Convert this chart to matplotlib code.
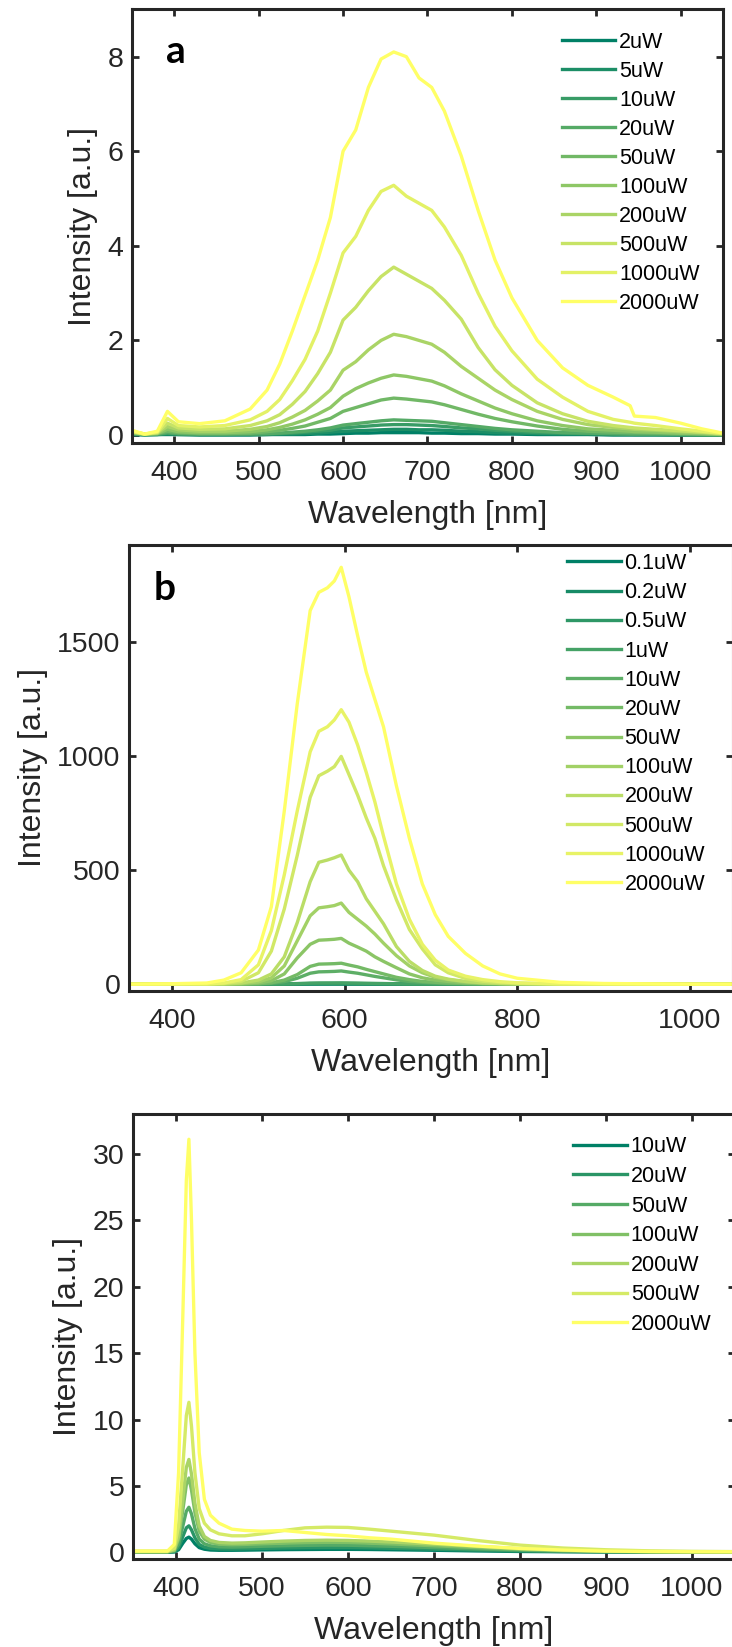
import numpy as np
import matplotlib
matplotlib.use('Agg')
import matplotlib.pyplot as plt

plt.rcParams['font.family'] = ['Liberation Sans', 'DejaVu Sans']

# ---------------- panel a ----------------
wl_a = [350, 365, 380, 392, 405, 430, 460, 490, 510, 525, 540, 555, 570, 585, 600, 615, 630, 645,
        660, 675, 690, 705, 720, 740, 760, 780, 800, 830, 860, 890, 920, 940, 945, 970, 1000, 1025, 1050]
labels_a = ['2uW', '5uW', '10uW', '20uW', '50uW', '100uW', '200uW', '500uW', '1000uW', '2000uW']
a_2uW = [0.01, 0.00, 0.01, 0.01, 0.01, 0.00, 0.00, 0.00, 0.01, 0.01, 0.01, 0.01, 0.02, 0.02, 0.03, 0.04, 0.04, 0.05,
         0.05, 0.05, 0.05, 0.04, 0.04, 0.03, 0.03, 0.02, 0.02, 0.01, 0.01, 0.01, 0.00, 0.00, 0.00, 0.00, 0.00, 0.00, 0.00]
a_5uW = [0.02, 0.01, 0.01, 0.02, 0.01, 0.01, 0.01, 0.01, 0.01, 0.02, 0.02, 0.03, 0.04, 0.06, 0.08, 0.09, 0.10, 0.11,
         0.12, 0.12, 0.11, 0.11, 0.10, 0.08, 0.07, 0.05, 0.04, 0.03, 0.02, 0.02, 0.01, 0.01, 0.01, 0.01, 0.00, 0.00, 0.00]
a_10uW = [0.02, 0.01, 0.01, 0.04, 0.02, 0.01, 0.01, 0.02, 0.02, 0.03, 0.04, 0.06, 0.08, 0.10, 0.15, 0.17, 0.19, 0.21,
          0.22, 0.22, 0.21, 0.20, 0.18, 0.15, 0.13, 0.10, 0.08, 0.05, 0.04, 0.03, 0.02, 0.02, 0.01, 0.01, 0.01, 0.00, 0.00]
a_20uW = [0.03, 0.01, 0.02, 0.05, 0.03, 0.02, 0.02, 0.02, 0.03, 0.04, 0.06, 0.08, 0.11, 0.15, 0.21, 0.24, 0.27, 0.30,
          0.32, 0.31, 0.30, 0.29, 0.26, 0.22, 0.18, 0.14, 0.11, 0.08, 0.05, 0.04, 0.03, 0.02, 0.02, 0.02, 0.01, 0.01, 0.00]
a_50uW = [0.04, 0.02, 0.03, 0.08, 0.05, 0.03, 0.03, 0.04, 0.07, 0.10, 0.14, 0.19, 0.27, 0.35, 0.50, 0.58, 0.66, 0.74,
          0.78, 0.76, 0.73, 0.70, 0.64, 0.54, 0.44, 0.35, 0.28, 0.19, 0.12, 0.08, 0.06, 0.05, 0.05, 0.04, 0.03, 0.02, 0.01]
a_100uW = [0.05, 0.02, 0.03, 0.12, 0.07, 0.05, 0.05, 0.07, 0.11, 0.16, 0.23, 0.32, 0.44, 0.58, 0.82, 0.98, 1.10, 1.20,
           1.27, 1.24, 1.19, 1.14, 1.04, 0.87, 0.72, 0.57, 0.45, 0.30, 0.20, 0.13, 0.10, 0.08, 0.07, 0.06, 0.04, 0.03, 0.01]
a_200uW = [0.06, 0.02, 0.04, 0.18, 0.11, 0.08, 0.08, 0.12, 0.18, 0.26, 0.38, 0.52, 0.72, 0.95, 1.37, 1.55, 1.80, 2.00,
           2.13, 2.08, 2.00, 1.92, 1.75, 1.45, 1.20, 0.95, 0.75, 0.50, 0.33, 0.22, 0.16, 0.13, 0.12, 0.10, 0.07, 0.05, 0.02]
a_500uW = [0.07, 0.02, 0.05, 0.25, 0.15, 0.12, 0.13, 0.20, 0.30, 0.43, 0.65, 0.92, 1.30, 1.75, 2.43, 2.70, 3.05, 3.35,
           3.55, 3.40, 3.25, 3.10, 2.85, 2.45, 1.85, 1.38, 1.05, 0.68, 0.45, 0.29, 0.20, 0.16, 0.15, 0.12, 0.09, 0.06, 0.03]
a_1000uW = [0.08, 0.02, 0.06, 0.35, 0.20, 0.17, 0.20, 0.32, 0.50, 0.75, 1.15, 1.60, 2.20, 3.00, 3.85, 4.20, 4.75, 5.15,
            5.28, 5.05, 4.90, 4.75, 4.40, 3.80, 3.00, 2.30, 1.78, 1.18, 0.80, 0.50, 0.33, 0.27, 0.25, 0.20, 0.13, 0.08, 0.03]
a_2000uW = [0.10, 0.02, 0.08, 0.50, 0.28, 0.24, 0.30, 0.55, 0.95, 1.50, 2.20, 2.95, 3.70, 4.60, 6.00, 6.45, 7.35, 7.95,
            8.10, 8.00, 7.55, 7.35, 6.85, 5.90, 4.75, 3.70, 2.90, 2.00, 1.42, 1.05, 0.80, 0.62, 0.40, 0.37, 0.25, 0.13, 0.04]

# ---------------- panel b ----------------
wl_b = [350, 400, 440, 460, 480, 500, 515, 530, 545, 560, 570, 580, 588, 596, 605, 615, 625, 635, 645,
        660, 675, 690, 705, 720, 740, 760, 780, 800, 850, 900, 1000, 1050]
labels_b = ['0.1uW', '0.2uW', '0.5uW', '1uW', '10uW', '20uW', '50uW', '100uW', '200uW', '500uW', '1000uW', '2000uW']
b_01uW = [0, 0, 0, 0, 0, 0, 0, 0.1, 0.2, 0.4, 0.5, 0.5, 0.6, 0.6, 0.5, 0.5, 0.4, 0.4, 0.3,
          0.2, 0.1, 0.1, 0, 0, 0, 0, 0, 0, 0, 0, 0, 0]
b_02uW = [0, 0, 0, 0, 0, 0, 0.1, 0.2, 0.5, 1.0, 1.1, 1.1, 1.2, 1.2, 1.1, 1.0, 0.8, 0.7, 0.6,
          0.4, 0.3, 0.2, 0.1, 0.1, 0, 0, 0, 0, 0, 0, 0, 0]
b_05uW = [0, 0, 0, 0, 0, 0.1, 0.2, 0.6, 1.4, 2.5, 2.8, 2.9, 2.9, 3.0, 2.8, 2.5, 2.1, 1.8, 1.5,
          1.0, 0.6, 0.4, 0.3, 0.2, 0.1, 0, 0, 0, 0, 0, 0, 0]
b_1uW = [0, 0, 0, 0, 0, 0.1, 0.4, 1.1, 2.6, 4.8, 5.4, 5.5, 5.6, 5.8, 5.3, 4.8, 4.1, 3.4, 2.8,
         1.9, 1.2, 0.8, 0.5, 0.3, 0.2, 0.1, 0.1, 0, 0, 0, 0, 0]
b_10uW = [0, 0, 0, 0, 0, 1, 4, 11, 26, 48, 54, 55, 56, 58, 53, 48, 41, 34, 28,
          19, 12, 8, 5, 3, 2, 1, 1, 0, 0, 0, 0, 0]
b_20uW = [0, 0, 0, 0, 0, 2, 6, 18, 42, 78, 88, 89, 90, 92, 84, 76, 65, 55, 45,
          30, 20, 12, 8, 5, 3, 2, 1, 0, 0, 0, 0, 0]
b_50uW = [0, 0, 0, 0, 1, 5, 15, 45, 115, 175, 193, 195, 197, 201, 180, 163, 145, 120, 100,
          72, 45, 28, 18, 12, 6, 3, 2, 1, 0, 0, 0, 0]
b_100uW = [0, 0, 0, 0, 3, 10, 28, 80, 190, 300, 335, 340, 345, 356, 315, 285, 255, 220, 180,
           125, 80, 50, 30, 20, 10, 5, 3, 1, 0, 0, 0, 0]
b_200uW = [0, 0, 0, 1, 5, 18, 45, 120, 270, 450, 535, 545, 555, 567, 500, 450, 375, 320, 265,
           165, 100, 60, 35, 22, 12, 6, 3, 2, 0, 0, 0, 0]
b_500uW = [0, 0, 0, 3, 12, 50, 145, 330, 565, 820, 915, 935, 955, 1000, 920, 830, 730, 640, 520,
           370, 240, 155, 85, 50, 25, 13, 7, 4, 1, 0, 0, 0]
b_1000uW = [0, 0, 1, 5, 20, 85, 235, 480, 760, 1020, 1110, 1130, 1160, 1205, 1150, 1050, 930, 800, 650,
            440, 285, 175, 105, 62, 35, 20, 11, 6, 1, 0, 0, 0]
b_2000uW = [0, 2, 5, 18, 50, 150, 340, 760, 1230, 1640, 1720, 1740, 1770, 1830, 1700, 1530, 1370, 1250, 1130,
            870, 640, 440, 305, 210, 135, 80, 45, 26, 8, 3, 0, 0]

# ---------------- panel c ----------------
wl_c = [350, 390, 398, 403, 408, 412, 415, 418, 422, 427, 433, 440, 450, 465, 480, 500, 525, 550, 575,
        600, 625, 650, 700, 750, 800, 850, 900, 950, 1000, 1050]
labels_c = ['10uW', '20uW', '50uW', '100uW', '200uW', '500uW', '2000uW']
c_10uW = [0.01, 0.01, 0.03, 0.20, 0.70, 1.05, 1.15, 1.00, 0.65, 0.36, 0.24, 0.18, 0.16, 0.16, 0.17, 0.19, 0.21, 0.22, 0.23,
          0.23, 0.22, 0.20, 0.16, 0.11, 0.07, 0.05, 0.03, 0.02, 0.01, 0.01]
c_20uW = [0.02, 0.02, 0.06, 0.35, 1.20, 1.85, 2.00, 1.70, 1.10, 0.60, 0.40, 0.30, 0.26, 0.25, 0.27, 0.30, 0.33, 0.35, 0.36,
          0.36, 0.34, 0.31, 0.24, 0.17, 0.11, 0.07, 0.04, 0.03, 0.02, 0.01]
c_50uW = [0.03, 0.03, 0.10, 0.60, 2.00, 3.10, 3.40, 2.90, 1.80, 1.00, 0.65, 0.50, 0.42, 0.40, 0.42, 0.46, 0.50, 0.53, 0.55,
          0.54, 0.50, 0.46, 0.36, 0.26, 0.17, 0.10, 0.06, 0.04, 0.02, 0.02]
c_100uW = [0.05, 0.05, 0.15, 1.00, 3.20, 5.10, 5.60, 4.70, 3.00, 1.60, 1.00, 0.75, 0.62, 0.58, 0.60, 0.65, 0.70, 0.74, 0.76,
           0.75, 0.70, 0.64, 0.50, 0.36, 0.23, 0.14, 0.08, 0.05, 0.03, 0.02]
c_200uW = [0.05, 0.05, 0.20, 1.20, 4.00, 6.40, 7.00, 5.90, 3.70, 2.00, 1.20, 0.90, 0.75, 0.70, 0.72, 0.78, 0.85, 0.90, 0.92,
           0.90, 0.85, 0.78, 0.62, 0.45, 0.28, 0.17, 0.10, 0.06, 0.04, 0.03]
c_500uW = [0.10, 0.10, 0.30, 2.00, 6.50, 10.3, 11.3, 9.50, 6.00, 3.30, 2.20, 1.70, 1.40, 1.25, 1.25, 1.40, 1.65, 1.85, 1.90,
           1.88, 1.75, 1.60, 1.30, 0.90, 0.55, 0.33, 0.20, 0.12, 0.08, 0.06]
c_2000uW = [0.10, 0.10, 0.60, 6.00, 18.0, 28.0, 31.1, 25.0, 15.0, 7.50, 4.00, 2.80, 2.20, 1.75, 1.65, 1.60, 1.65, 1.50, 1.35,
            1.25, 1.10, 1.00, 0.70, 0.48, 0.30, 0.18, 0.10, 0.07, 0.05, 0.05]

INK = '#262626'


def draw_panel(ax, wl, series, labels, ylim, yticks, xticks, leg_xy, leg_space):
    colors = plt.cm.summer(np.linspace(0, 1, len(series)))
    for y, lab, c in zip(series, labels, colors):
        ax.plot(wl, y, color=c, lw=2.4, label=lab, solid_joinstyle='round')
    ax.set_xlim(350, 1050)
    ax.set_ylim(*ylim)
    ax.set_xticks(xticks)
    ax.set_yticks(yticks)
    for s in ax.spines.values():
        s.set_linewidth(2.2)
        s.set_color(INK)
    ax.tick_params(direction='in', length=5, width=2, color=INK, labelcolor=INK,
                   labelsize=20.5, top=True, right=True)
    ax.tick_params(axis='x', pad=12)
    ax.tick_params(axis='y', pad=6)
    ax.set_xlabel('Wavelength [nm]', fontsize=23, color=INK, labelpad=10)
    ax.set_ylabel('Intensity [a.u.]', fontsize=23, color=INK, labelpad=7)
    leg = ax.legend(loc='upper left', bbox_to_anchor=leg_xy, fontsize=15.5, frameon=True,
                    facecolor='white', edgecolor='none', framealpha=1, borderpad=0, borderaxespad=0,
                    handlelength=2.5, handletextpad=0.18, labelspacing=leg_space)
    for t in leg.get_texts():
        t.set_color('black')


fig = plt.figure(figsize=(7.32, 16.47), dpi=100)

ax_a = fig.add_axes([0.1803, 0.7310, 0.8074, 0.2633])
draw_panel(ax_a, wl_a, [a_2uW, a_5uW, a_10uW, a_20uW, a_50uW, a_100uW, a_200uW, a_500uW, a_1000uW, a_2000uW],
           labels_a, (-0.17, 9.0), [0, 2, 4, 6, 8], [400, 500, 600, 700, 800, 900, 1000], (0.727, 0.948), 0.37)

ax_b = fig.add_axes([0.1762, 0.3983, 0.8251, 0.2708])
draw_panel(ax_b, wl_b, [b_01uW, b_02uW, b_05uW, b_1uW, b_10uW, b_20uW, b_50uW, b_100uW, b_200uW, b_500uW,
                        b_1000uW, b_2000uW],
           labels_b, (-30, 1928), [0, 500, 1000, 1500], [400, 600, 800, 1000], (0.725, 0.982), 0.38)

ax_c = fig.add_axes([0.1817, 0.0534, 0.8224, 0.2702])
draw_panel(ax_c, wl_c, [c_10uW, c_20uW, c_50uW, c_100uW, c_200uW, c_500uW, c_2000uW],
           labels_c, (-0.5, 33), [0, 5, 10, 15, 20, 25, 30], [400, 500, 600, 700, 800, 900, 1000],
           (0.731, 0.950), 0.40)

fig.text(166 / 732, 1 - 63 / 1647, 'a', fontsize=28, fontweight='bold', family='Lato', va='baseline')
fig.text(154 / 732, 1 - 600 / 1647, 'b', fontsize=28, fontweight='bold', family='Lato', va='baseline')

fig.savefig('out.png', dpi=100)
